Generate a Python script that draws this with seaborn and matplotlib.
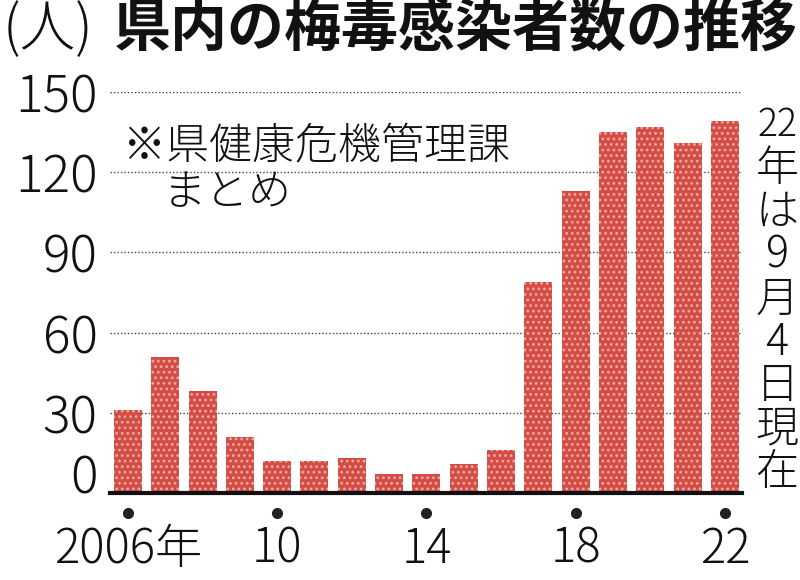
import matplotlib
matplotlib.use('Agg')
import matplotlib.pyplot as plt
import seaborn as sns
import pandas as pd
from matplotlib.transforms import blended_transform_factory

# ---- data ----
years = list(range(2006, 2023))
cases = [31, 51, 38, 21, 12, 12, 13, 7, 7, 11, 16, 79, 113, 135, 137, 131, 139]
x_tick_labels = ['2006年', '', '', '', '10', '', '', '', '14', '', '', '', '18', '', '', '', '22']
marked_years = [2006, 2010, 2014, 2018, 2022]
y_ticks = [0, 30, 60, 90, 120, 150]
title_unit = '(人)'
title_text = '県内の梅毒感染者数の推移'
source_line1 = '※県健康危機管理課'
source_line2 = 'まとめ'
note_chars = ['22', '年', 'は', '9', '月', '4', '日', '現', '在']

BAR = '#d44c46'
DOT = '#f2aaa2'
LIGHT = 'light'

sns.set_theme(style='white')
plt.rcParams['font.family'] = ['Noto Sans CJK JP', 'DejaVu Sans']
plt.rcParams['hatch.linewidth'] = 1.2

W, H = 800, 580
fig = plt.figure(figsize=(W / 100, H / 100), dpi=100)
ax = fig.add_axes([110 / W, 87 / H, 632 / W, 401 / H])

df = pd.DataFrame({'year': [str(y) for y in years], 'cases': cases})
sns.barplot(data=df, x='year', y='cases', color=BAR, saturation=1, width=0.75,
            ax=ax, zorder=2)
for p in ax.patches:
    p.set_hatch('...')
    p.set_edgecolor(DOT)
    p.set_linewidth(0)

ax.set_xlim(-0.48, 16.46)
ax.set_ylim(0, 150)
ax.set_xlabel('')
ax.set_ylabel('')

ax.set_yticks(y_ticks)
ax.set_yticklabels([str(v) for v in y_ticks], fontsize=37, color='#111',
                   fontweight=LIGHT)
ax.tick_params(axis='y', length=0, pad=9)
for lab in ax.get_yticklabels():
    lab.set_verticalalignment('center_baseline')
ax.get_yticklabels()[0].set_verticalalignment('baseline')

ax.set_xticks(range(len(years)))
ax.set_xticklabels(x_tick_labels, fontsize=34, color='#111', fontweight=LIGHT)
ax.tick_params(axis='x', length=0, pad=23)

ax.yaxis.grid(True, linestyle=(0, (1, 1.5)), color='#444444', linewidth=1.0)
ax.xaxis.grid(False)
ax.set_axisbelow(True)

for s in ['left', 'right', 'top']:
    ax.spines[s].set_visible(False)
ax.spines['bottom'].set_linewidth(3)
ax.spines['bottom'].set_color('#111')
ax.spines['bottom'].set_zorder(5)

trans = blended_transform_factory(ax.transData, ax.transAxes)
pos = [years.index(y) for y in marked_years]
ax.plot(pos, [-0.05] * len(pos), 'o', ms=7, color='#222', transform=trans,
        clip_on=False)

def ft(x, y, s, **kw):
    fig.text(x / W, 1 - y / H, s, **kw)

ft(3, 30, title_unit, fontsize=40, ha='left', va='center', color='#111',
   fontweight=LIGHT)
ft(114, 30, title_text, fontsize=41, weight='bold', ha='left', va='center', color='#111')

ft(123, 147, source_line1, fontsize=31, ha='left', va='center', color='#111',
   fontweight=LIGHT)
ft(163, 193, source_line2, fontsize=31, ha='left', va='center', color='#111',
   fontweight=LIGHT)

for i, ch in enumerate(note_chars):
    ft(777, 103 + 43.5 * (i + 0.5), ch, fontsize=27 if len(ch) > 1 else 31,
       ha='center', va='center', color='#111', fontweight=LIGHT)

fig.savefig('out.png', dpi=100)
